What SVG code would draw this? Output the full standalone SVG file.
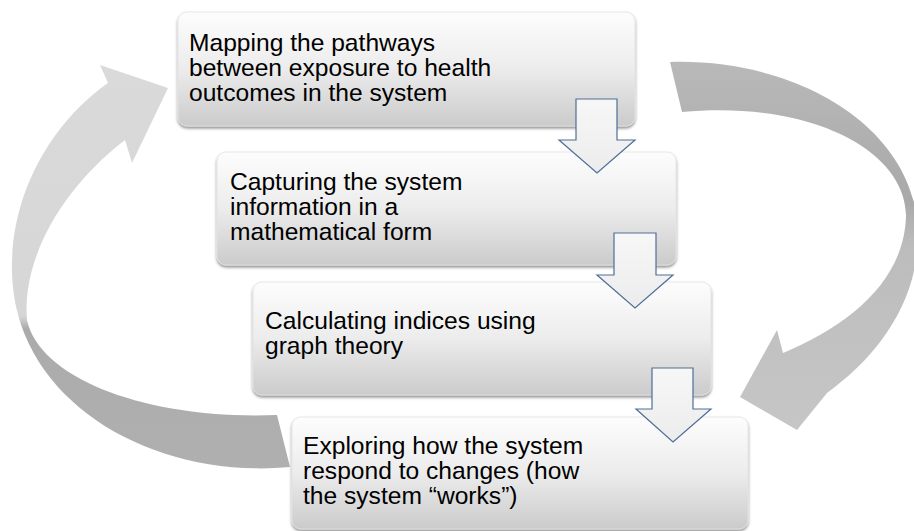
<svg xmlns="http://www.w3.org/2000/svg" width="914" height="531" viewBox="0 0 914 531">
<defs>
<linearGradient id="boxg" x1="0" y1="0" x2="0" y2="1">
<stop offset="0" stop-color="#fdfdfd"/>
<stop offset="0.5" stop-color="#ececec"/>
<stop offset="1" stop-color="#cbcbcb"/>
</linearGradient>
<linearGradient id="arrg" x1="0" y1="0" x2="0" y2="1">
<stop offset="0" stop-color="#f7f7f7"/>
<stop offset="1" stop-color="#ececec"/>
</linearGradient>
<linearGradient id="leftg" gradientUnits="userSpaceOnUse" x1="0" y1="60" x2="0" y2="480">
<stop offset="0" stop-color="#dadada"/>
<stop offset="0.61" stop-color="#d6d6d6"/>
<stop offset="0.64" stop-color="#ababab"/>
<stop offset="1" stop-color="#b0b0b0"/>
</linearGradient>
<linearGradient id="rightg" gradientUnits="userSpaceOnUse" x1="0" y1="60" x2="0" y2="430">
<stop offset="0" stop-color="#b9b9b9"/>
<stop offset="0.38" stop-color="#a9a9a9"/>
<stop offset="0.5" stop-color="#bcbcbc"/>
<stop offset="1" stop-color="#c6c6c6"/>
</linearGradient>
<filter id="sh" x="-5%" y="-10%" width="110%" height="125%">
<feDropShadow dx="0" dy="2" stdDeviation="1.6" flood-color="#000" flood-opacity="0.45"/>
</filter>
</defs>
<style>
.box{fill:url(#boxg);stroke:#e2e2e2;stroke-width:0.8;filter:url(#sh)}
.txt{font-family:"Liberation Sans",Arial,sans-serif;font-size:24.6px;fill:#000}
.down{fill:url(#arrg);stroke:#4f6e98;stroke-width:1.2;stroke-linejoin:miter}
</style>
<rect width="914" height="531" fill="#ffffff"/>
<g id="cycle-arrows">
<path id="left-arrow" fill="url(#leftg)" d="M277,415 L290,467 C150,480 15,400 12,273 C10,190 55,120 108,83 L100,65 L168,88 L132,163 L125,140 C60,190 22,260 27,320 C40,380 150,420 277,415 Z"/>
<path id="right-arrow" fill="url(#rightg)" d="M670,62 C800,58 918,130 918,235 C918,300 880,355 827,393 L797,430 L740,397 L777,330 L783,353 C850,325 905,280 906,215 C905,150 810,100 682,112 Z"/>
</g>
<g id="node1">
<rect class="box" x="178" y="12" width="457" height="114" rx="9"/>
<text class="txt"><tspan x="189" y="51">Mapping the pathways</tspan><tspan x="189" y="76">between exposure to health</tspan><tspan x="189" y="101">outcomes in the system</tspan></text>
</g>
<g id="node2">
<rect class="box" x="217" y="152" width="459" height="113" rx="9"/>
<text class="txt"><tspan x="230" y="190">Capturing the system</tspan><tspan x="230" y="215">information in a</tspan><tspan x="230" y="240">mathematical form</tspan></text>
</g>
<g id="node3">
<rect class="box" x="253" y="282" width="458" height="113" rx="9"/>
<text class="txt"><tspan x="265" y="329">Calculating indices using</tspan><tspan x="265" y="354">graph theory</tspan></text>
</g>
<g id="node4">
<rect class="box" x="292" y="417" width="456" height="112" rx="9"/>
<text class="txt"><tspan x="303" y="454">Exploring how the system</tspan><tspan x="303" y="479">respond to changes (how</tspan><tspan x="303" y="504">the system “works”)</tspan></text>
</g>
<g id="connectors">
<path class="down" d="M576,99 L617,99 L617,140 L635,140 L597,173 L559,140 L576,140 Z"/>
<path class="down" d="M614,233 L656,233 L656,275 L673,275 L635,308 L597,275 L614,275 Z"/>
<path class="down" d="M652,368 L693,368 L693,409 L711,409 L673,442 L636,409 L652,409 Z"/>
</g>
</svg>
